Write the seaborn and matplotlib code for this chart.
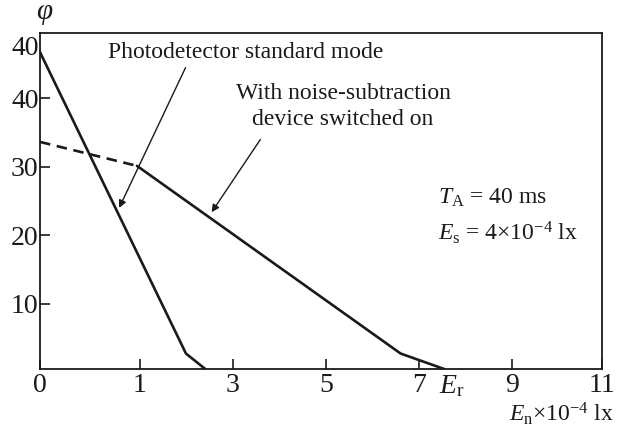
import matplotlib
matplotlib.use("Agg")
import matplotlib.pyplot as plt
import seaborn as sns
import pandas as pd

# ---- data (x in tick-slot units: slot i carries label x_tick_labels[i]) ----
std_x = [-0.076, 1.495, 1.707]
std_y = [46.7, 2.7, 0.4]
sub_x = [0.968, 3.806, 4.283]
sub_y = [30.1, 2.7, 0.4]
dash_x = [-0.076, 0.968]
dash_y = [33.6, 30.1]
x_tick_pos = [-0.076, 1, 2, 3, 4, 5, 5.97]
x_tick_labels = ["0", "1", "3", "5", "7", "9", "11"]
y_tick_pos = [10, 20, 30, 40]
y_tick_labels = ["10", "20", "30", "40"]
y_top_label_pos = 47.7
y_top_label = "40"
er_pos = 4.355
er_label = r"$E_\mathrm{r}$"

sns.set_theme(style="ticks")
plt.rcParams["font.family"] = ["Liberation Serif", "DejaVu Serif"]
plt.rcParams["mathtext.fontset"] = "custom"
plt.rcParams["mathtext.rm"] = "Liberation Serif"
plt.rcParams["mathtext.it"] = "Liberation Serif:italic"

fig = plt.figure(figsize=(6.28, 4.32), dpi=100)
ax = fig.add_axes([40 / 628, 1 - 369.3 / 432, (601.7 - 40) / 628, (369.3 - 33) / 432])

df_std = pd.DataFrame({"x": std_x, "y": std_y})
df_sub = pd.DataFrame({"x": sub_x, "y": sub_y})
df_dash = pd.DataFrame({"x": dash_x, "y": dash_y})
sns.lineplot(data=df_std, x="x", y="y", ax=ax, color="#1a1a1a", lw=1.9, sort=False, estimator=None)
sns.lineplot(data=df_sub, x="x", y="y", ax=ax, color="#1a1a1a", lw=1.9, sort=False, estimator=None)
sns.lineplot(data=df_dash, x="x", y="y", ax=ax, color="#1a1a1a", lw=1.9, sort=False,
             estimator=None, linestyle=(0, (4, 2.5)))

ax.set_xlim(-0.076, 5.97)
ax.set_ylim(0.4, 49.5)
ax.set_xlabel("")
ax.set_ylabel("")
for s in ax.spines.values():
    s.set_visible(True)
    s.set_linewidth(1.3)
    s.set_color("#1a1a1a")

ax.set_xticks(x_tick_pos, labels=x_tick_labels)
ax.set_yticks(y_tick_pos, labels=y_tick_labels)
ax.set_xticks([er_pos], labels=[er_label], minor=True)
ax.set_yticks([y_top_label_pos], labels=[y_top_label], minor=True)
ax.tick_params(axis="both", which="major", direction="in", length=7, width=1.2,
               labelsize=20, colors="#1a1a1a", pad=3)
ax.tick_params(axis="both", which="minor", length=0, labelsize=20, colors="#1a1a1a", pad=3)
ax.tick_params(axis="y", which="both", pad=1)

# annotations
fs = 17
ax.text(2.141, 46.7, "Photodetector standard mode", fontsize=fs, ha="center", va="center", color="#1a1a1a")
ax.annotate("", xy=(0.763, 23.6), xytext=(1.503, 44.8),
            arrowprops=dict(arrowstyle="-|>", color="#1a1a1a", lw=1.0, mutation_scale=11))
ax.text(3.186, 40.7, "With noise-subtraction", fontsize=fs, ha="center", va="center", color="#1a1a1a")
ax.text(3.186, 36.8, "device switched on", fontsize=fs, ha="center", va="center", color="#1a1a1a")
ax.annotate("", xy=(1.755, 23.0), xytext=(2.313, 34.3),
            arrowprops=dict(arrowstyle="-|>", color="#1a1a1a", lw=1.0, mutation_scale=11))
ax.text(4.208, 25.4, r"$T_\mathrm{A}$ = 40 ms", fontsize=fs, ha="left", va="center", color="#1a1a1a")
ax.text(4.208, 20.3, r"$E_\mathrm{s}$ = 4$\times$10$^{-4}$ lx", fontsize=fs, ha="left", va="center", color="#1a1a1a")

fig.text(614 / 628, 1 - 414 / 432, r"$E_\mathrm{n}$$\times$10$^{-4}$ lx", fontsize=fs,
         ha="right", va="center", color="#1a1a1a")
fig.text(45 / 628, 1 - 14 / 432, r"$\varphi$", fontsize=21, ha="center", va="center", color="#1a1a1a")

fig.savefig("out.png", dpi=100, facecolor="white")
